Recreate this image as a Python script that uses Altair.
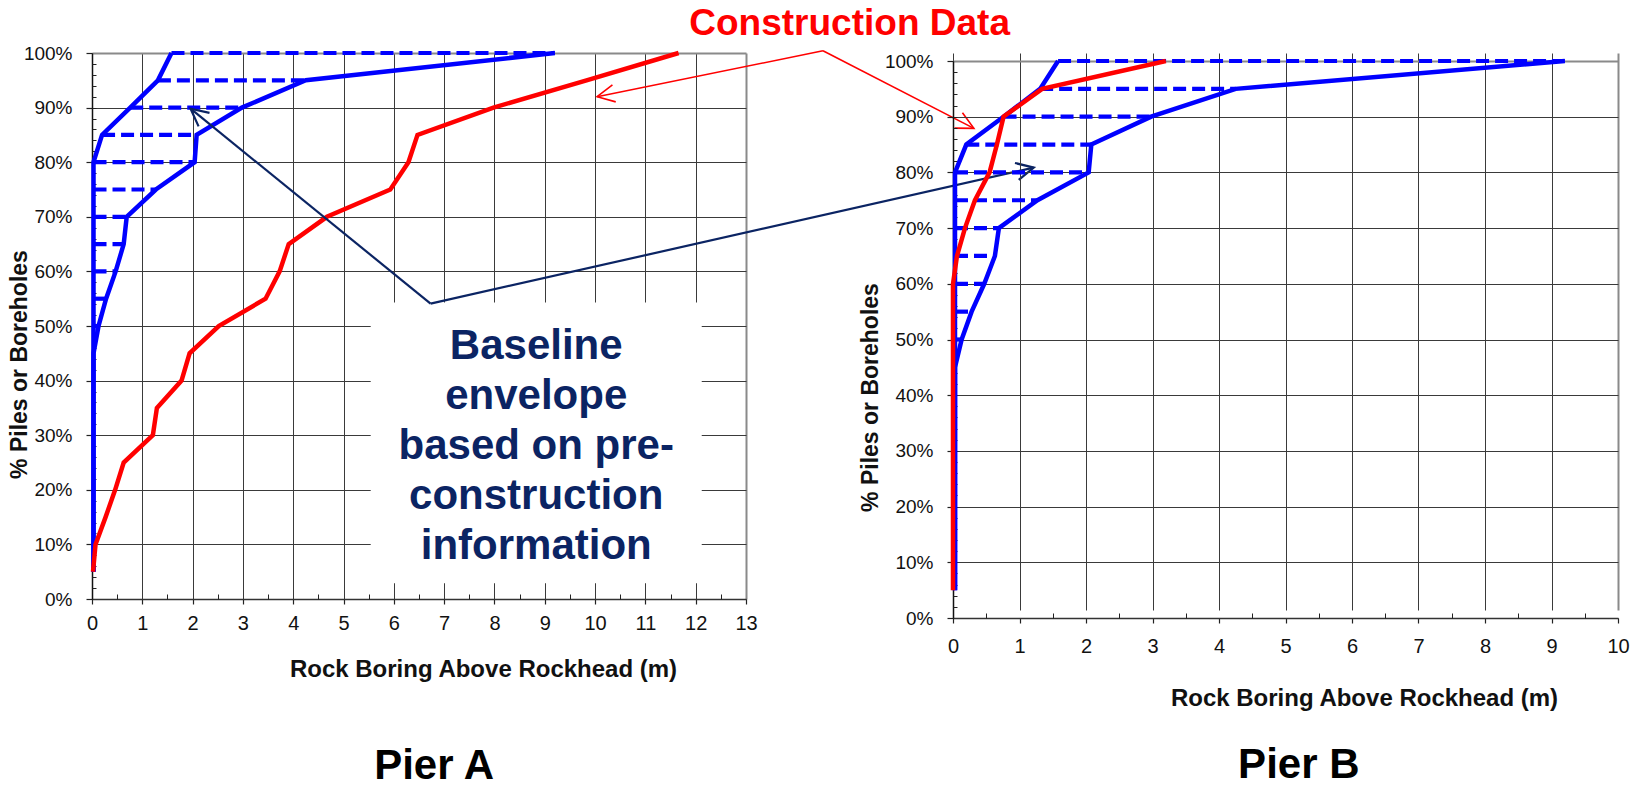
import altair as alt
import pandas as pd

# ---------------- data ----------------
LEVELS = [5, 10, 15, 20, 25, 30, 35, 40, 45, 50, 55, 60, 65, 70, 75, 80, 85, 90, 95, 100]
# baseline envelope from pre-construction information (same for both piers)
ENV_MIN = [0.03, 0.03, 0.03, 0.03, 0.03, 0.03, 0.03, 0.03, 0.03, 0.03,
           0.03, 0.03, 0.03, 0.03, 0.03, 0.03, 0.20, 0.76, 1.31, 1.58]
ENV_MAX = [0.03, 0.03, 0.03, 0.03, 0.03, 0.03, 0.03, 0.03, 0.03, 0.13,
           0.28, 0.47, 0.63, 0.69, 1.27, 2.04, 2.08, 2.98, 4.25, 9.20]
# construction data
PIER_A = [0.02, 0.07, 0.27, 0.46, 0.63, 1.21, 1.29, 1.78, 1.94, 2.52,
          3.45, 3.73, 3.91, 4.67, 5.93, 6.29, 6.47, 7.98, 9.83, 11.66]
PIER_B = [0.00, 0.00, 0.00, 0.00, 0.00, 0.00, 0.00, 0.00, 0.00, 0.00,
          0.00, 0.00, 0.06, 0.18, 0.33, 0.55, 0.66, 0.76, 1.34, 3.20]

Y_TICKS = [0, 10, 20, 30, 40, 50, 60, 70, 80, 90, 100]
X_TICKS_A = [0, 1, 2, 3, 4, 5, 6, 7, 8, 9, 10, 11, 12, 13]
X_TICKS_B = [0, 1, 2, 3, 4, 5, 6, 7, 8, 9, 10]
X_TITLE = "Rock Boring Above Rockhead (m)"
Y_TITLE = "% Piles or Boreholes"
BOX_LINES = ["Baseline", "envelope", "based on pre-", "construction", "information"]

# annotation anchors, in Pier A axis units (m, %)
RED_VERTEX = [14.53, 100.4]
RED_TIPS = [[10.04, 92.0, 169.0], [17.53, 86.2, 27.2]]
NAVY_VERTEX = [6.73, 54.1]
NAVY_TIPS = [[1.96, 89.8, 219.1], [18.72, 79.0, 347.4]]
BOX = [5.54, 12.12, 2.9, 54.3]
BOX_TEXT_AT = [8.83, 44.0]
CONSTRUCTION_AT = [15.06, 103.3]
PIER_A_AT = [6.80, -30.5]
PIER_B_AT = [5.20, -26.4]

FONT = "Liberation Sans"
BLUE = "#0000FF"
RED = "#FF0000"
NAVY = "#0B2463"
GRID = "#3a3a3a"
FRAME = "#8a8a8a"


def envelope_df():
    rows = []
    for lvl, lo, hi in zip(LEVELS, ENV_MIN, ENV_MAX):
        rows.append({"side": "min", "x": lo, "pct": lvl})
        rows.append({"side": "max", "x": hi, "pct": lvl})
    return pd.DataFrame(rows)


def dashes_df():
    rows = []
    for lvl, lo, hi in zip(LEVELS, ENV_MIN, ENV_MAX):
        if hi - lo > 0.05:
            rows.append({"level": lvl, "x": lo, "pct": lvl})
            rows.append({"level": lvl, "x": hi, "pct": lvl})
    return pd.DataFrame(rows)


def panel(red, x_ticks, width, height, top, x_title_xy, y_title_xy, x_label_pad,
          pier_label, pier_at, extra=None):
    xs = alt.Scale(domain=[0, x_ticks[-1]], nice=False, zero=False)
    ys = alt.Scale(domain=[0, 100], nice=False, zero=False, range=[height, top])

    x_end = "datum.value === %s" % x_ticks[-1]
    main_x = alt.Axis(values=x_ticks, tickSize=5, tickColor="#222", tickWidth=1.2,
                      domainColor="#333", domainWidth=1.5,
                      grid=True,
                      gridColor={"condition": {"test": x_end, "value": FRAME}, "value": GRID},
                      gridWidth={"condition": {"test": x_end, "value": 2}, "value": 1},
                      labelFontSize=20, labelPadding=x_label_pad, labelFlush=False,
                      labelColor="#111", labelFont=FONT,
                      title=X_TITLE, titleFont=FONT, titleFontSize=24, titleFontWeight="bold",
                      titleColor="#111", titleX=x_title_xy[0], titleY=x_title_xy[1],
                      titleAlign="center", titleBaseline="middle")
    y_end = "datum.value === 100"
    main_y = alt.Axis(values=Y_TICKS, labelExpr="datum.value + '%'", tickSize=6,
                      tickColor="#222", tickWidth=1.2,
                      domainColor="#111", domainWidth=1.5,
                      grid=True,
                      gridColor={"condition": {"test": y_end, "value": FRAME}, "value": GRID},
                      gridWidth={"condition": {"test": y_end, "value": 2}, "value": 1},
                      labelFontSize=19, labelPadding=14, labelFlush=False,
                      labelColor="#111", labelFont=FONT,
                      title=Y_TITLE, titleFont=FONT, titleFontSize=23, titleFontWeight="bold",
                      titleColor="#111", titleX=y_title_xy[0], titleY=y_title_xy[1],
                      titleAngle=270, titleAlign="center", titleBaseline="middle")
    minor_x = alt.Axis(orient="top", offset=-height, values=[v + 0.5 for v in x_ticks[:-1]],
                       tickSize=5, tickColor="#222", labels=False, domain=False,
                       grid=False, title=None)
    minor_y = alt.Axis(orient="right", offset=-width, values=list(range(2, 100, 2)),
                       tickSize=4, tickColor="#222", labels=False, domain=False,
                       grid=False, title=None)

    env = envelope_df()
    dash = dashes_df()
    red_df = pd.DataFrame({"x": red, "pct": LEVELS})

    layers = []
    if extra is not None:
        layers += extra["below"](xs, ys)
    layers.append(
        alt.Chart(env).mark_line(color=BLUE, strokeWidth=4.5, strokeJoin="miter").encode(
            x=alt.X("x:Q", scale=xs, axis=main_x),
            y=alt.Y("pct:Q", scale=ys, axis=main_y),
            detail="side:N", order="pct:Q"))
    layers.append(
        alt.Chart(env).mark_line(opacity=0).encode(
            x=alt.X("x:Q", scale=xs, axis=minor_x),
            y=alt.Y("pct:Q", scale=ys, axis=minor_y),
            detail="side:N", order="pct:Q"))
    layers.append(
        alt.Chart(dash).mark_line(color=BLUE, strokeWidth=4.2, strokeDash=[13, 6],
                                  strokeCap="butt").encode(
            x=alt.X("x:Q", scale=xs, axis=None),
            y=alt.Y("pct:Q", scale=ys, axis=None),
            detail="level:N", order="x:Q"))
    layers.append(
        alt.Chart(red_df).mark_line(color=RED, strokeWidth=4.5).encode(
            x=alt.X("x:Q", scale=xs, axis=None),
            y=alt.Y("pct:Q", scale=ys, axis=None),
            order="pct:Q"))
    layers.append(
        alt.Chart(pd.DataFrame({"x": [pier_at[0]], "pct": [pier_at[1]], "t": [pier_label]}))
        .mark_text(font=FONT, fontSize=42, fontWeight="bold", color="#000",
                   align="center", baseline="middle")
        .encode(x=alt.X("x:Q", scale=xs, axis=None),
                y=alt.Y("pct:Q", scale=ys, axis=None), text="t:N"))
    if extra is not None:
        layers += extra["above"](xs, ys)

    return (alt.layer(*layers)
            .resolve_axis(x="independent", y="independent")
            .properties(width=width, height=height))


def annotations_below(xs, ys):
    box = pd.DataFrame({"x": [BOX[0]], "x2": [BOX[1]], "y": [BOX[2]], "y2": [BOX[3]]})
    return [alt.Chart(box).mark_rect(color="white").encode(
        x=alt.X("x:Q", scale=xs, axis=None), x2="x2:Q",
        y=alt.Y("y:Q", scale=ys, axis=None), y2="y2:Q")]


def annotations_above(xs, ys):
    seg_rows = []
    for tip in RED_TIPS:
        seg_rows.append({"x": RED_VERTEX[0], "y": RED_VERTEX[1], "x2": tip[0], "y2": tip[1], "c": "red"})
    for tip in NAVY_TIPS:
        seg_rows.append({"x": NAVY_VERTEX[0], "y": NAVY_VERTEX[1], "x2": tip[0], "y2": tip[1], "c": "navy"})
    segs = pd.DataFrame(seg_rows)
    head_rows = [{"x": t[0], "y": t[1], "ang": t[2], "c": "red"} for t in RED_TIPS] + \
                [{"x": t[0], "y": t[1], "ang": t[2], "c": "navy"} for t in NAVY_TIPS]
    heads = pd.DataFrame(head_rows)
    cscale = alt.Scale(domain=["red", "navy"], range=[RED, NAVY])
    wscale = alt.Scale(domain=["red", "navy"], range=[1.6, 2.2])

    rules = alt.Chart(segs).mark_rule().encode(
        x=alt.X("x:Q", scale=xs, axis=None), x2="x2:Q",
        y=alt.Y("y:Q", scale=ys, axis=None), y2="y2:Q",
        color=alt.Color("c:N", scale=cscale, legend=None),
        strokeWidth=alt.StrokeWidth("c:N", scale=wscale, legend=None))
    arrowheads = alt.Chart(heads).mark_point(
        shape="M-1,-0.5L0,0L-1,0.5", filled=False, size=1200, opacity=1).encode(
        x=alt.X("x:Q", scale=xs, axis=None),
        y=alt.Y("y:Q", scale=ys, axis=None),
        angle=alt.Angle("ang:Q", scale=None),
        color=alt.Color("c:N", scale=cscale, legend=None),
        strokeWidth=alt.StrokeWidth("c:N", scale=wscale, legend=None))
    box_text = alt.Chart(pd.DataFrame({"x": [BOX_TEXT_AT[0]], "y": [BOX_TEXT_AT[1]]})).mark_text(
        text=BOX_LINES, font=FONT, fontSize=42, fontWeight="bold", color=NAVY,
        lineHeight=50, align="center", baseline="alphabetic").encode(
        x=alt.X("x:Q", scale=xs, axis=None), y=alt.Y("y:Q", scale=ys, axis=None))
    title = alt.Chart(pd.DataFrame({"x": [CONSTRUCTION_AT[0]], "y": [CONSTRUCTION_AT[1]]})).mark_text(
        text="Construction Data", font=FONT, fontSize=37, fontWeight="bold", color=RED,
        align="center", baseline="alphabetic").encode(
        x=alt.X("x:Q", scale=xs, axis=None), y=alt.Y("y:Q", scale=ys, axis=None))
    return [rules, arrowheads, box_text, title]


left = panel(PIER_A, X_TICKS_A, 654, 546, 0,
             x_title_xy=[391, 70], y_title_xy=[-73, 311], x_label_pad=9,
             pier_label="Pier A", pier_at=PIER_A_AT,
             extra={"below": annotations_below, "above": annotations_above})
right = panel(PIER_B, X_TICKS_B, 665, 565, 8,
              x_title_xy=[411, 80], y_title_xy=[-83, 344], x_label_pad=13,
              pier_label="Pier B", pier_at=PIER_B_AT)

chart = (alt.hconcat(left, right, spacing=207, bounds="flush")
         .properties(padding={"top": -4, "left": 0, "right": 0, "bottom": 0},
                     background="white")
         .configure(font=FONT)
         .configure_view(stroke=None))

chart.save("out.html", embed_options={"renderer": "svg", "actions": False})
